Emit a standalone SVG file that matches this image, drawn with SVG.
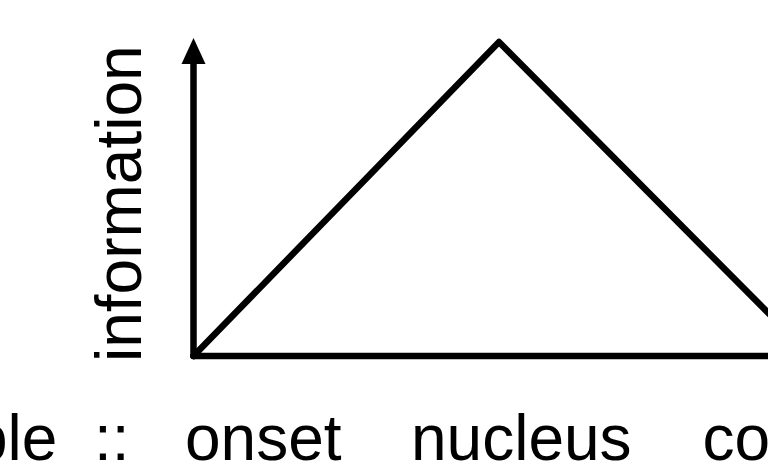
<svg xmlns="http://www.w3.org/2000/svg" width="768" height="466" viewBox="0 0 768 466">
<style>
.ln{fill:none;stroke:#000;stroke-width:6.5;stroke-linecap:round;stroke-linejoin:round}
.t{font-family:"Liberation Sans",Arial,sans-serif;font-size:64px;fill:#000}
</style>
<rect width="768" height="466" fill="#fff"/>
<g id="connectors">
<line class="ln" x1="193.5" y1="356" x2="193.5" y2="62"/>
<polygon points="193.5,38 181.5,64 205.5,64" fill="#000"/>
<line class="ln" x1="193.5" y1="356" x2="800" y2="356"/>
<polyline class="ln" points="193.5,356 499,42 811,356"/>
</g>
<g id="ylabel">
<text class="t" transform="translate(141,362) rotate(-90)">information</text>
</g>
<g id="xlabels">
<text class="t" x="-28" y="460">ble</text>
<text class="t" x="94" y="460">::</text>
<text class="t" x="185" y="460">onset</text>
<text class="t" x="411" y="460">nucleus</text>
<text class="t" x="702.5" y="460">co</text>
</g>
</svg>
